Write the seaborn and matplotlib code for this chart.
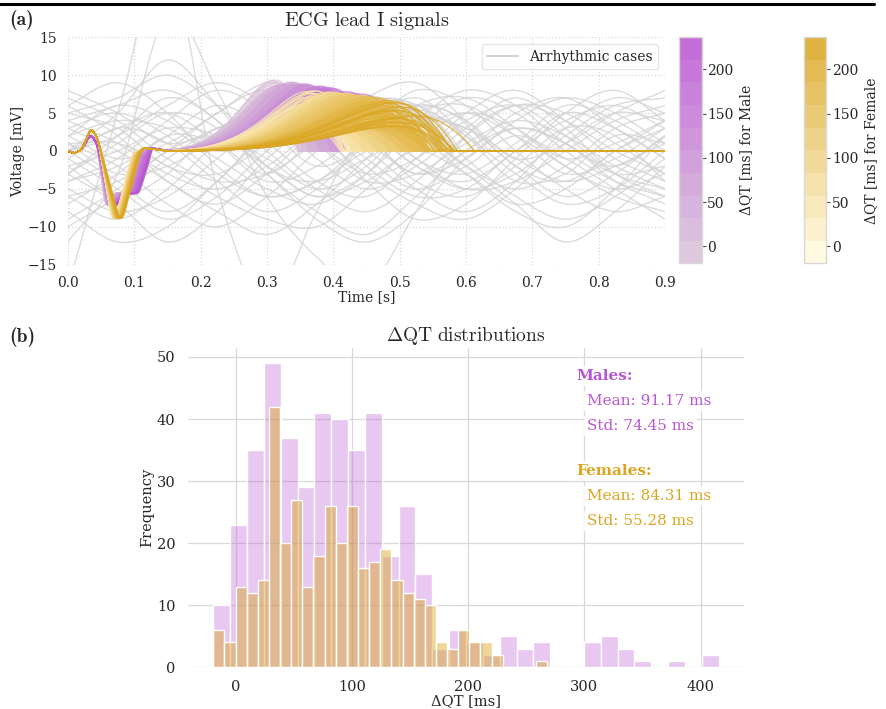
import numpy as np
import pandas as pd
import matplotlib
matplotlib.use("Agg")
import matplotlib.pyplot as plt
import seaborn as sns
from matplotlib.colors import LinearSegmentedColormap, Normalize
from matplotlib.collections import LineCollection
from matplotlib.lines import Line2D
from matplotlib.cm import ScalarMappable

# ---------------- data ----------------
# Histogram counts (30 bins each) of ΔQT [ms]
male_counts = [10, 23, 35, 49, 37, 29, 41, 40, 35, 41, 18, 26, 15, 3, 6,
               4, 2, 5, 3, 4, 0, 0, 4, 5, 3, 1, 0, 1, 0, 2]
female_counts = [6, 4, 13, 12, 14, 42, 20, 27, 13, 18, 26, 20, 26, 16, 17,
                 19, 14, 12, 11, 10, 4, 3, 6, 4, 4, 2, 0, 0, 0, 1]
male_range = (-19.2, 415.5)
female_range = (-19.2, 268.0)
male_mean, male_std = 91.17, 74.45
female_mean, female_std = 84.31, 55.28
cbar_range = (-19.0, 236.0)
cbar_ticks = [0, 50, 100, 150, 200]

# ECG template (QRS knots) for each sex
male_qrs_t = [0.0, 0.010, 0.020, 0.034, 0.044, 0.057, 0.068, 0.082, 0.100, 0.125, 0.15]
male_qrs_v = [0.0, -0.3, 0.1, 2.2, 1.0, -7.5, -5.6, -5.6, -0.6, 0.4, 0.0]
female_qrs_t = [0.0, 0.010, 0.020, 0.035, 0.045, 0.066, 0.072, 0.097, 0.115, 0.15]
female_qrs_v = [0.0, -0.3, 0.1, 3.0, 1.6, -9.0, -8.8, -0.4, 0.4, 0.0]

# Arrhythmic cases: voltage knots at t = 0, 0.075, ..., 0.9 s
arr_knot_t = [0.0, 0.075, 0.15, 0.225, 0.3, 0.375, 0.45, 0.525, 0.6, 0.675, 0.75, 0.825, 0.9]
arrhythmic_knots = [
    [3, 5, 2, -3, -6, -4, 1, 4, 3, -1, -4, -2, 1],
    [-6, -4, 0, 5, 8, 4, -2, -6, -5, 0, 4, 6, 3],
    [1, -2, -7, -10, -6, 0, 5, 6, 2, -3, -7, -5, 0],
    [5, 7, 10, 6, 0, -5, -8, -4, 2, 6, 5, 1, -3],
    [-2, 0, 3, 2, -2, -6, -3, 3, 7, 5, 0, -4, -6],
    [-10, -6, -1, 3, 5, 2, -3, -7, -9, -5, 1, 5, 4],
    [0, 2, 6, 9, 6, 1, -4, -3, 1, 4, 2, -2, -5],
    [4, 1, -3, -5, -2, 3, 7, 5, -1, -6, -9, -6, -1],
    [-5, -8, -6, -1, 4, 6, 3, -2, -5, -3, 2, 6, 7],
    [7, 4, -1, -4, -3, 1, 4, 2, -3, -8, -10, -5, 2],
    [-3, 2, 7, 4, -3, -8, -11, -6, 0, 3, 1, -3, -2],
    [2, 4, 3, -1, -5, -7, -3, 4, 8, 6, 1, -2, 2],
    [-8, -12, -10, -4, 2, 5, 2, -4, -6, -2, 3, 2, -4],
    [1, -3, -2, 2, 6, 3, -4, -9, -7, -1, 5, 8, 4],
    [6, 9, 5, -2, -6, -4, 0, 3, 5, 2, -2, -6, -8],
    [-4, -1, 4, 8, 5, -1, -5, -2, 3, 7, 3, -3, -6],
    [0, 5, 12, 6, -2, -4, -1, 2, -2, -5, -2, 3, 5],
    [-1, -5, -9, -6, 0, 4, 6, 3, -2, -7, -12, -8, -2],
    [3, 0, -4, -8, -11, -7, -1, 5, 6, 2, -3, -1, 3],
    [-7, -3, 2, 1, -3, 2, 7, 9, 4, -2, -4, 0, 4],
    [2, 6, 4, 0, 2, 6, 4, -1, -5, -4, 0, 4, 6],
    [-2, -6, -3, 3, 1, -4, -6, -1, 5, 8, 4, -1, -4],
    [5, 3, -2, -3, 1, 5, 3, -2, -4, 0, 5, 3, -1],
    [-3, 1, 5, 3, -3, -9, -12, -8, -1, 3, 1, -4, -7],
    [-12, -3, 18, 8, -6, -14, -18, -8, 2, 6, 4, 0, -3],
    [-18, 5, 25, -5, -20, -8, 3, 7, 2, -4, -3, 2, 1],
    [0, -4, -8, -4, 3, 8, 5, -1, -3, 1, 6, 4, 0],
    [-4, -2, 2, 6, 3, -2, 1, 6, 7, 3, -2, -5, -3],
    [6, 2, -4, -7, -3, 2, 0, -5, -8, -4, 3, 7, 5],
    [-9, -5, 0, 2, -1, -5, -2, 4, 3, -2, -6, -3, 2],
    [2, -1, 1, 5, 9, 7, 2, -3, 0, 5, 7, 3, -1],
    [-1, 3, 1, -4, -8, -5, 1, 6, 4, -1, 1, 5, 8],
    [4, 6, 8, 4, -2, -6, -4, 0, -3, -7, -5, 0, 3],
    [-6, -9, -5, 1, 4, 1, -3, -1, 4, 6, 2, -3, -5],
    [1, 1, -2, -6, -9, -10, -5, 1, 5, 3, -1, 1, 4],
    [-3, -7, -12, -8, -1, 3, 1, -3, -1, 4, 7, 5, 1],
    [8, 5, 1, 3, 6, 4, -1, -5, -2, 2, -1, -5, -9],
    [0, 3, 5, 1, -4, -2, 3, 8, 6, 0, -5, -8, -6],
]

MALE_C = "#BA55D3"
FEMALE_C = "#DAA520"

# ---------------- style ----------------
sns.set_theme(style="whitegrid")
plt.rcParams["font.family"] = ["DejaVu Serif"]
plt.rcParams["mathtext.fontset"] = "cm"

fig = plt.figure(figsize=(8.86, 7.09), dpi=100)
ax1 = fig.add_axes([0.0767, 0.6267, 0.6738, 0.3207])
ax2 = fig.add_axes([0.2122, 0.0588, 0.6275, 0.4504])
cax_m = fig.add_axes([0.7667, 0.6286, 0.0254, 0.3188])
cax_f = fig.add_axes([0.9074, 0.6286, 0.0254, 0.3188])

t = np.linspace(0, 0.9, 901)


def hermite(kt, kv, tt):
    x = np.asarray(kt, float)
    y = np.asarray(kv, float)
    m = np.gradient(y, x)
    idx = np.clip(np.searchsorted(x, tt) - 1, 0, len(x) - 2)
    h = x[idx + 1] - x[idx]
    s = (tt - x[idx]) / h
    h00 = 2 * s**3 - 3 * s**2 + 1
    h10 = s**3 - 2 * s**2 + s
    h01 = -2 * s**3 + 3 * s**2
    h11 = s**3 - s**2
    return h00 * y[idx] + h10 * h * m[idx] + h01 * y[idx + 1] + h11 * h * m[idx + 1]


kern = np.exp(-0.5 * (np.arange(-8, 9) / 2.0) ** 2)
kern /= kern.sum()


def ecg(qt_knots, qv_knots, tend, amp):
    q = np.interp(t, qt_knots, qv_knots)
    q = np.convolve(q, kern, mode="same")
    u = np.clip((t - 0.1) / (tend - 0.1), 0, 1)
    return q + amp * np.sin(np.pi * u ** 3.5)


def cases(counts, rng):
    """Spread each bin's count over the bin; return (ΔQT, position-in-bin)."""
    edges = np.linspace(rng[0], rng[1], len(counts) + 1)
    out, pos = [], []
    for i, n in enumerate(counts):
        w = edges[i + 1] - edges[i]
        for j in range(n):
            out.append(edges[i] + (j + 0.5) * w / n)
            pos.append(((j * 7) % n + 0.5) / n)
    return np.array(out), np.array(pos)


male_d, male_p = cases(male_counts, male_range)
female_d, female_p = cases(female_counts, female_range)

# ---------------- panel (a) ----------------
grey_lines = []
for kv in arrhythmic_knots:
    grey_lines.append(np.column_stack([t, hermite(arr_knot_t, kv, t)]))

male_lines, male_cols = [], []
cmap_m = LinearSegmentedColormap.from_list("m", ["#D8BFD8", MALE_C], N=10)
cmap_f = LinearSegmentedColormap.from_list("f", ["#FFF8DC", FEMALE_C], N=10)
cmap_f_line = LinearSegmentedColormap.from_list("fl", ["#FBEBB8", FEMALE_C], N=10)
norm = Normalize(*cbar_range)
for d, p in zip(male_d, male_p):
    f = np.clip((d - male_range[0]) / 255.0, 0, 1.0)
    qt_k = list(male_qrs_t)
    for k in range(5, 9):
        qt_k[k] = male_qrs_t[k] + (0.012 if k == 5 else 0.025) * f
    amp = (9.6 - 0.007 * (d - male_range[0])) * (0.6 + 0.4 * p)
    y = ecg(qt_k, male_qrs_v, 0.345 + 0.00067 * (d - male_range[0]), amp)
    if d > cbar_range[1]:
        grey_lines.append(np.column_stack([t, y]))
    else:
        male_lines.append(np.column_stack([t, y]))
        male_cols.append(cmap_m(norm(d)))

female_lines, female_cols = [], []
for d, p in zip(female_d, female_p):
    f = np.clip((d - female_range[0]) / 287.0, 0, 1)
    qt_k = list(female_qrs_t)
    for k in range(5, 8):
        qt_k[k] = female_qrs_t[k] + 0.012 * f
    amp = (8.3 - 0.006 * (d - female_range[0])) * (0.4 + 0.6 * p)
    y = ecg(qt_k, female_qrs_v, 0.41 + 0.00072 * (d - female_range[0]), amp)
    female_lines.append(np.column_stack([t, y]))
    female_cols.append(cmap_f_line(norm(min(d, cbar_range[1]))))

ax1.add_collection(LineCollection(grey_lines, colors="#d3d3d3", linewidths=1.0, alpha=0.8))
ax1.add_collection(LineCollection(male_lines, colors=male_cols, linewidths=1.0, alpha=0.6))
ax1.add_collection(LineCollection(female_lines, colors=female_cols, linewidths=0.9, alpha=0.8))

ax1.set_xlim(0, 0.9)
ax1.set_ylim(-15, 15)
ax1.set_xticks(np.arange(0, 0.91, 0.1))
ax1.set_yticks(np.arange(-15, 16, 5))
ax1.grid(True, linestyle=":", color="#d9d9d9", linewidth=0.9)
for s in ax1.spines.values():
    s.set_visible(False)
ax1.tick_params(labelsize=10, pad=2, colors=".15")
ax1.set_xlabel("Time [s]", fontsize=10, labelpad=0)
ax1.set_ylabel("Voltage [mV]", fontsize=10, labelpad=2)
ax1.set_title(r"$\mathrm{ECG\ lead\ I\ signals}$", fontsize=14.6, pad=8)
leg = ax1.legend(handles=[Line2D([0], [0], color="#d3d3d3", lw=1.5)],
                 labels=["Arrhythmic cases"], loc="upper right", fontsize=10,
                 frameon=True, handlelength=2.2)
leg.get_frame().set_edgecolor("#e0e0e0")

for cax, cmap, lab in [(cax_m, cmap_m, "ΔQT [ms] for Male"),
                       (cax_f, cmap_f, "ΔQT [ms] for Female")]:
    sm = ScalarMappable(norm=norm, cmap=cmap)
    cb = fig.colorbar(sm, cax=cax, ticks=cbar_ticks)
    cb.solids.set_alpha(0.85)
    cax.grid(False)
    cb.outline.set_edgecolor("#d9d9d9")
    cb.outline.set_linewidth(1.0)
    cax.tick_params(labelsize=10, length=3, width=0.8, color=".3", pad=1, colors=".15")
    cb.set_label(lab, fontsize=10, labelpad=4)

# ---------------- panel (b) ----------------
m_edges = np.linspace(male_range[0], male_range[1], len(male_counts) + 1)
f_edges = np.linspace(female_range[0], female_range[1], len(female_counts) + 1)
m_df = pd.DataFrame({"dqt": (m_edges[:-1] + m_edges[1:]) / 2, "n": male_counts})
f_df = pd.DataFrame({"dqt": (f_edges[:-1] + f_edges[1:]) / 2, "n": female_counts})

sns.histplot(data=m_df, x="dqt", weights="n", bins=len(male_counts),
             binrange=male_range, color=MALE_C,
             alpha=0.33, edgecolor="white", linewidth=1.0, ax=ax2)
sns.histplot(data=f_df, x="dqt", weights="n", bins=len(female_counts),
             binrange=female_range, color=FEMALE_C,
             alpha=0.45, edgecolor="white", linewidth=1.0, ax=ax2)
ax2.set_yticks(range(0, 51, 10))
ax2.set_xticks([0, 100, 200, 300, 400])
ax2.grid(True, color="#d9d9d9", linewidth=0.9)
ax2.set_axisbelow(True)
for s in ax2.spines.values():
    s.set_visible(False)
ax2.tick_params(labelsize=10.5, pad=3, colors=".15")
ax2.set_xlabel("ΔQT [ms]", fontsize=10.5, labelpad=0)
ax2.set_ylabel("Frequency", fontsize=10.5, labelpad=2)
ax2.set_title(r"$\Delta\mathrm{QT\ distributions}$", fontsize=14, pad=5)

bb = dict(facecolor="white", edgecolor="none", alpha=0.85, pad=2)
ax2.text(0.698, 0.912, "Males:", transform=ax2.transAxes, color=MALE_C,
         fontweight="bold", fontsize=11, va="center", bbox=bb)
ax2.text(0.718, 0.834, f"Mean: {male_mean:.2f} ms", transform=ax2.transAxes,
         color=MALE_C, fontsize=11, va="center", bbox=bb)
ax2.text(0.718, 0.756, f"Std: {male_std:.2f} ms", transform=ax2.transAxes,
         color=MALE_C, fontsize=11, va="center", bbox=bb)
ax2.text(0.698, 0.615, "Females:", transform=ax2.transAxes, color=FEMALE_C,
         fontweight="bold", fontsize=11, va="center", bbox=bb)
ax2.text(0.718, 0.536, f"Mean: {female_mean:.2f} ms", transform=ax2.transAxes,
         color=FEMALE_C, fontsize=11, va="center", bbox=bb)
ax2.text(0.718, 0.458, f"Std: {female_std:.2f} ms", transform=ax2.transAxes,
         color=FEMALE_C, fontsize=11, va="center", bbox=bb)

# panel labels and top rule
fig.text(0.011, 1 - 20 / 709, "(a)", fontsize=14, va="center",
         family=["cmb10", "DejaVu Serif"])
fig.text(0.011, 1 - 337 / 709, "(b)", fontsize=14, va="center",
         family=["cmb10", "DejaVu Serif"])
fig.add_artist(Line2D([0.0, 0.987], [0.995, 0.995], color="black", lw=2.2,
                      transform=fig.transFigure))

fig.savefig("out.png", dpi=100)
